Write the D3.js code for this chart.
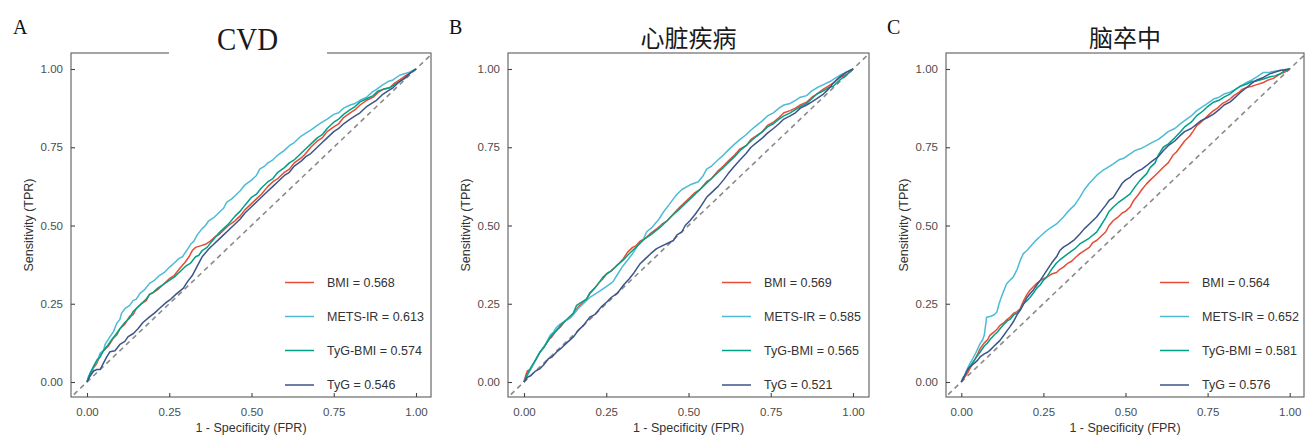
<!DOCTYPE html>
<html><head><meta charset="utf-8">
<script src="https://cdn.jsdelivr.net/npm/d3@7"></script>
<style>
html,body{margin:0;padding:0;background:#fff;}
svg{display:block;}
</style></head>
<body>
<svg id="chart" width="1305" height="443"></svg>
<script>
// ---------------- DATA ----------------
const panelLetters = ["A", "B", "C"];
const panelTitles = ["CVD", "心脏疾病", "脑卒中"];
const seriesNames = ["BMI", "METS-IR", "TyG-BMI", "TyG"];
const aucCVD = ["0.568", "0.613", "0.574", "0.546"];
const aucHeart = ["0.569", "0.585", "0.565", "0.521"];
const aucStroke = ["0.564", "0.652", "0.581", "0.576"];
const tickValues = [0, 0.25, 0.5, 0.75, 1];
const xAxisTitle = "1 - Specificity (FPR)";
const yAxisTitle = "Sensitivity (TPR)";

// ROC points [FPR, TPR]
const cvdBMI = [[0,0],[.01,.025],[.02,.045],[.03,.06],[.04,.085],[.05,.10],[.065,.115],[.08,.14],[.09,.15],[.1,.17],[.115,.185],[.13,.21],[.14,.215],[.15,.235],[.165,.25],[.18,.26],[.19,.28],[.2,.285],[.215,.295],[.23,.31],[.25,.33],[.265,.34],[.28,.36],[.3,.385],[.31,.40],[.32,.42],[.33,.43],[.345,.435],[.36,.44],[.375,.45],[.39,.465],[.4,.47],[.415,.485],[.43,.50],[.45,.515],[.465,.53],[.48,.55],[.5,.57],[.515,.585],[.53,.60],[.55,.625],[.565,.64],[.58,.65],[.6,.67],[.615,.68],[.63,.70],[.65,.715],[.665,.73],[.68,.75],[.7,.77],[.715,.78],[.73,.80],[.75,.815],[.765,.825],[.78,.845],[.8,.86],[.815,.87],[.83,.885],[.85,.90],[.87,.91],[.885,.925],[.9,.935],[.92,.94],[.935,.955],[.95,.965],[.97,.98],[.985,.99],[1,1]];
const cvdMETS = [[0,0],[.005,.02],[.015,.03],[.02,.05],[.03,.065],[.04,.092],[.05,.10],[.055,.12],[.07,.145],[.08,.16],[.09,.187],[.1,.20],[.105,.22],[.116,.235],[.13,.245],[.14,.26],[.15,.265],[.161,.283],[.175,.295],[.19,.315],[.205,.325],[.22,.34],[.235,.35],[.252,.368],[.265,.38],[.28,.395],[.29,.40],[.303,.42],[.315,.44],[.325,.45],[.335,.47],[.35,.49],[.36,.50],[.37,.515],[.385,.525],[.4,.54],[.415,.555],[.425,.575],[.44,.585],[.45,.595],[.465,.61],[.48,.63],[.5,.645],[.515,.66],[.525,.68],[.54,.69],[.55,.70],[.565,.71],[.58,.725],[.6,.74],[.615,.755],[.63,.765],[.65,.785],[.665,.795],[.68,.805],[.7,.82],[.715,.83],[.73,.84],[.75,.855],[.765,.86],[.78,.875],[.8,.885],[.815,.89],[.83,.90],[.85,.91],[.865,.925],[.88,.935],[.9,.95],[.915,.96],[.93,.965],[.95,.98],[.965,.985],[.98,.99],[1,1]];
const cvdTyGBMI = [[0,0],[.01,.03],[.02,.05],[.03,.07],[.04,.08],[.05,.10],[.065,.12],[.075,.135],[.09,.155],[.1,.17],[.115,.19],[.13,.205],[.14,.225],[.15,.235],[.165,.25],[.18,.265],[.19,.28],[.2,.285],[.215,.30],[.23,.31],[.25,.325],[.265,.335],[.28,.35],[.3,.37],[.315,.38],[.33,.40],[.34,.405],[.35,.42],[.365,.43],[.38,.45],[.4,.475],[.415,.49],[.43,.505],[.45,.53],[.465,.545],[.48,.565],[.5,.59],[.515,.60],[.53,.62],[.55,.64],[.565,.65],[.58,.67],[.6,.685],[.615,.70],[.63,.71],[.65,.73],[.665,.745],[.68,.76],[.7,.78],[.715,.79],[.73,.81],[.75,.83],[.765,.84],[.78,.855],[.8,.87],[.815,.88],[.83,.895],[.85,.905],[.87,.915],[.885,.93],[.9,.935],[.92,.94],[.935,.95],[.95,.96],[.965,.97],[.98,.985],[1,1]];
const cvdTyG = [[0,0],[.01,.02],[.02,.035],[.03,.04],[.04,.04],[.05,.06],[.06,.08],[.07,.097],[.085,.10],[.1,.12],[.115,.13],[.125,.145],[.141,.155],[.155,.17],[.17,.19],[.19,.208],[.205,.22],[.22,.235],[.242,.255],[.255,.265],[.27,.28],[.293,.30],[.305,.32],[.32,.34],[.335,.37],[.35,.40],[.37,.425],[.385,.44],[.4,.455],[.415,.47],[.43,.485],[.45,.505],[.465,.52],[.48,.54],[.5,.56],[.515,.575],[.53,.59],[.55,.61],[.565,.625],[.58,.64],[.6,.66],[.615,.67],[.63,.69],[.65,.705],[.665,.72],[.68,.73],[.7,.75],[.715,.765],[.73,.78],[.75,.80],[.765,.81],[.78,.825],[.8,.84],[.815,.85],[.83,.86],[.85,.88],[.865,.89],[.88,.90],[.9,.92],[.915,.93],[.93,.94],[.95,.96],[.965,.97],[.98,.985],[1,1]];

const heartBMI = [[0,0],[.005,.02],[.01,.035],[.02,.04],[.03,.06],[.04,.08],[.049,.096],[.06,.11],[.075,.135],[.085,.145],[.099,.165],[.11,.175],[.125,.195],[.14,.205],[.15,.218],[.165,.24],[.18,.255],[.19,.265],[.2,.282],[.215,.30],[.23,.32],[.24,.33],[.251,.346],[.265,.355],[.28,.37],[.29,.38],[.302,.394],[.315,.415],[.33,.43],[.34,.435],[.353,.45],[.37,.46],[.385,.475],[.403,.489],[.42,.505],[.435,.515],[.454,.537],[.47,.555],[.485,.57],[.505,.59],[.52,.605],[.535,.615],[.555,.64],[.57,.65],[.59,.675],[.606,.69],[.62,.705],[.64,.725],[.657,.745],[.675,.755],[.69,.775],[.707,.787],[.725,.80],[.74,.82],[.758,.83],[.775,.845],[.79,.86],[.809,.867],[.825,.875],[.84,.885],[.859,.894],[.875,.91],[.89,.92],[.91,.936],[.925,.945],[.94,.955],[.96,.973],[.975,.98],[.99,.99],[1,1]];
const heartMETS = [[0,0],[.01,.02],[.02,.04],[.035,.07],[.049,.096],[.065,.12],[.08,.15],[.09,.16],[.099,.175],[.11,.185],[.125,.195],[.14,.205],[.15,.215],[.165,.235],[.18,.25],[.2,.27],[.215,.28],[.23,.29],[.25,.305],[.27,.32],[.285,.345],[.3,.37],[.315,.39],[.33,.41],[.345,.435],[.36,.45],[.373,.48],[.39,.495],[.41,.52],[.425,.545],[.44,.565],[.454,.585],[.465,.60],[.48,.615],[.505,.63],[.53,.64],[.545,.66],[.555,.68],[.57,.69],[.59,.71],[.606,.725],[.62,.74],[.64,.76],[.657,.775],[.675,.79],[.69,.805],[.707,.82],[.725,.835],[.74,.85],[.758,.86],[.775,.875],[.79,.885],[.809,.89],[.825,.90],[.84,.91],[.859,.915],[.875,.93],[.89,.94],[.91,.95],[.93,.96],[.945,.97],[.96,.98],[.98,.99],[1,1]];
const heartTyGBMI = [[0,0],[.01,.025],[.02,.045],[.035,.07],[.049,.096],[.06,.11],[.075,.135],[.085,.15],[.099,.165],[.11,.18],[.125,.195],[.14,.21],[.15,.22],[.16,.245],[.175,.255],[.19,.265],[.2,.285],[.215,.30],[.23,.32],[.24,.335],[.251,.345],[.265,.355],[.28,.37],[.302,.39],[.315,.405],[.33,.42],[.34,.43],[.353,.445],[.37,.46],[.385,.47],[.403,.485],[.42,.50],[.435,.515],[.454,.535],[.47,.55],[.485,.565],[.505,.585],[.52,.60],[.54,.62],[.555,.635],[.57,.65],[.59,.67],[.606,.685],[.62,.70],[.64,.72],[.657,.74],[.675,.755],[.69,.77],[.707,.785],[.725,.80],[.74,.815],[.758,.825],[.775,.84],[.79,.85],[.809,.86],[.825,.87],[.84,.88],[.859,.89],[.875,.905],[.89,.92],[.91,.93],[.925,.94],[.94,.945],[.96,.965],[.98,.98],[1,1]];
const heartTyG = [[0,0],[.01,.015],[.02,.02],[.035,.035],[.049,.043],[.06,.055],[.075,.075],[.085,.08],[.099,.096],[.115,.11],[.13,.125],[.15,.144],[.165,.165],[.18,.18],[.2,.207],[.215,.215],[.235,.24],[.251,.255],[.265,.27],[.285,.285],[.302,.309],[.32,.33],[.335,.35],[.353,.378],[.37,.395],[.385,.41],[.403,.426],[.42,.435],[.44,.445],[.454,.452],[.465,.47],[.48,.48],[.49,.50],[.505,.516],[.52,.535],[.54,.565],[.555,.59],[.57,.605],[.59,.625],[.606,.645],[.62,.665],[.64,.69],[.657,.71],[.675,.73],[.69,.75],[.707,.765],[.725,.78],[.74,.795],[.758,.81],[.775,.825],[.79,.84],[.809,.85],[.825,.86],[.84,.875],[.859,.885],[.875,.895],[.89,.905],[.91,.92],[.925,.935],[.94,.955],[.96,.975],[.98,.99],[1,1]];

const strokeBMI = [[0,0],[.01,.015],[.02,.03],[.026,.043],[.04,.07],[.05,.09],[.057,.106],[.07,.125],[.08,.135],[.087,.149],[.1,.16],[.11,.17],[.118,.181],[.13,.19],[.14,.2],[.148,.207],[.16,.22],[.17,.225],[.179,.234],[.19,.26],[.2,.28],[.209,.293],[.22,.305],[.23,.315],[.24,.324],[.25,.33],[.26,.335],[.275,.345],[.29,.35],[.3,.36],[.311,.367],[.325,.38],[.335,.385],[.35,.40],[.361,.41],[.375,.42],[.39,.43],[.4,.445],[.412,.452],[.425,.465],[.44,.48],[.45,.50],[.463,.516],[.475,.525],[.49,.54],[.5,.545],[.514,.559],[.525,.58],[.54,.60],[.55,.615],[.564,.633],[.575,.645],[.59,.66],[.6,.67],[.615,.686],[.63,.70],[.645,.725],[.655,.735],[.666,.75],[.68,.77],[.695,.785],[.705,.80],[.717,.819],[.73,.83],[.745,.845],[.755,.855],[.768,.867],[.78,.875],[.795,.89],[.805,.895],[.818,.904],[.83,.915],[.845,.925],[.855,.935],[.869,.941],[.885,.945],[.9,.95],[.92,.957],[.935,.965],[.95,.97],[.97,.984],[.985,.99],[1,1]];
const strokeMETS = [[0,0],[.005,.015],[.01,.02],[.015,.035],[.026,.059],[.035,.075],[.045,.095],[.057,.122],[.065,.135],[.07,.15],[.075,.19],[.077,.207],[.09,.21],[.1,.215],[.108,.223],[.115,.25],[.125,.28],[.138,.314],[.148,.325],[.158,.335],[.17,.36],[.18,.39],[.189,.41],[.2,.42],[.209,.431],[.225,.45],[.24,.465],[.26,.484],[.275,.495],[.29,.505],[.311,.527],[.325,.545],[.345,.565],[.361,.59],[.375,.615],[.39,.635],[.412,.66],[.43,.675],[.445,.685],[.463,.697],[.48,.71],[.495,.715],[.514,.729],[.53,.74],[.545,.745],[.564,.755],[.58,.765],[.6,.775],[.615,.787],[.63,.80],[.65,.81],[.666,.824],[.68,.835],[.7,.85],[.717,.867],[.735,.88],[.75,.89],[.768,.904],[.785,.91],[.8,.92],[.818,.926],[.835,.935],[.85,.945],[.869,.957],[.885,.965],[.9,.975],[.92,.989],[.94,.99],[.97,.995],[1,1]];
const strokeTyGBMI = [[0,0],[.01,.02],[.02,.04],[.026,.05],[.04,.07],[.05,.085],[.057,.095],[.07,.115],[.08,.125],[.087,.135],[.1,.15],[.11,.16],[.118,.17],[.13,.185],[.14,.195],[.148,.2],[.16,.215],[.17,.22],[.179,.23],[.19,.25],[.2,.26],[.209,.27],[.22,.285],[.23,.3],[.24,.31],[.25,.325],[.26,.335],[.275,.36],[.29,.38],[.3,.39],[.311,.399],[.325,.41],[.345,.425],[.361,.441],[.375,.45],[.39,.46],[.412,.479],[.425,.50],[.44,.525],[.45,.545],[.463,.559],[.48,.575],[.5,.59],[.514,.601],[.53,.625],[.545,.645],[.564,.665],[.575,.685],[.59,.70],[.6,.725],[.615,.75],[.63,.76],[.65,.78],[.666,.798],[.68,.815],[.7,.83],[.717,.851],[.735,.865],[.75,.88],[.768,.894],[.785,.90],[.8,.91],[.818,.92],[.835,.935],[.85,.945],[.869,.952],[.885,.96],[.9,.962],[.92,.968],[.94,.975],[.955,.978],[.97,.984],[.985,.995],[1,1]];
const strokeTyG = [[0,0],[.01,.02],[.02,.04],[.026,.048],[.04,.06],[.05,.07],[.057,.08],[.07,.09],[.08,.095],[.087,.101],[.1,.115],[.11,.125],[.118,.133],[.13,.15],[.14,.165],[.148,.176],[.16,.195],[.17,.215],[.179,.229],[.19,.25],[.2,.27],[.209,.282],[.22,.295],[.23,.31],[.24,.324],[.25,.34],[.26,.356],[.275,.38],[.29,.40],[.3,.42],[.311,.431],[.325,.44],[.345,.455],[.361,.473],[.375,.49],[.39,.505],[.412,.527],[.425,.545],[.44,.565],[.45,.58],[.463,.59],[.475,.61],[.49,.635],[.5,.645],[.514,.654],[.525,.665],[.54,.675],[.55,.68],[.564,.691],[.58,.705],[.6,.72],[.615,.739],[.63,.755],[.65,.77],[.666,.787],[.68,.80],[.7,.81],[.717,.824],[.73,.835],[.75,.845],[.768,.856],[.785,.87],[.8,.885],[.818,.894],[.835,.91],[.85,.925],[.869,.941],[.885,.955],[.9,.965],[.92,.973],[.94,.985],[.97,.995],[1,1]];

// ---------------- LAYOUT / STYLE ----------------
const colors = ["#E64B35", "#4DBBD5", "#00A087", "#3C5488"];
const panels = [
  {left: 71, right: 431, x0: 87, x1: 416, letterX: 13, curves: [cvdBMI, cvdMETS, cvdTyGBMI, cvdTyG], auc: aucCVD},
  {left: 508, right: 869, x0: 524, x1: 853, letterX: 449, curves: [heartBMI, heartMETS, heartTyGBMI, heartTyG], auc: aucHeart},
  {left: 946, right: 1304, x0: 961.3, x1: 1289.7, letterX: 887, curves: [strokeBMI, strokeMETS, strokeTyGBMI, strokeTyG], auc: aucStroke}
];
const frameTop = 53, frameBottom = 397, yZero = 382, yOne = 69;
const svg = d3.select("#chart");
const sans = "'Liberation Sans', Arial, sans-serif";

panels.forEach((p, i) => {
  const g = svg.append("g");
  const x = d3.scaleLinear().domain([0, 1]).range([p.x0, p.x1]);
  const y = d3.scaleLinear().domain([0, 1]).range([yZero, yOne]);

  const clipId = "clip" + i;
  svg.append("clipPath").attr("id", clipId).append("rect")
    .attr("x", p.left).attr("y", frameTop).attr("width", p.right - p.left).attr("height", frameBottom - frameTop);

  // diagonal reference
  g.append("line")
    .attr("clip-path", `url(#${clipId})`)
    .attr("x1", x(-0.06)).attr("y1", y(-0.06)).attr("x2", x(1.06)).attr("y2", y(1.06))
    .attr("stroke", "#8a8a8a").attr("stroke-width", 1.6).attr("stroke-dasharray", "5,4");

  // curves
  const line = d3.line().x(d => x(d[0])).y(d => y(d[1]));
  p.curves.forEach((c, k) => {
    g.append("path").datum(c).attr("d", line)
      .attr("fill", "none").attr("stroke", colors[k]).attr("stroke-width", 1.5)
      .attr("stroke-linejoin", "round");
  });

  // frame
  g.append("rect").attr("x", p.left).attr("y", frameTop)
    .attr("width", p.right - p.left).attr("height", frameBottom - frameTop)
    .attr("fill", "none").attr("stroke", "#5c5c5c").attr("stroke-width", 1.1);

  // axes
  const xa = g.append("g").attr("transform", `translate(0,${frameBottom})`)
    .call(d3.axisBottom(x).tickValues(tickValues).tickFormat(d3.format(".2f")).tickSizeInner(-4).tickSizeOuter(0).tickPadding(11));
  const ya = g.append("g").attr("transform", `translate(${p.left},0)`)
    .call(d3.axisLeft(y).tickValues(tickValues).tickFormat(d3.format(".2f")).tickSizeInner(-4).tickSizeOuter(0).tickPadding(8));
  [xa, ya].forEach(a => {
    a.select(".domain").remove();
    a.selectAll(".tick line").attr("stroke", "#444").attr("stroke-width", 1.1);
    a.selectAll(".tick text").attr("fill", "#4d4d4d").style("font-family", sans).style("font-size", "11.5px");
  });

  // axis titles
  const cx = (p.left + p.right) / 2;
  g.append("text").attr("x", cx).attr("y", 432).attr("text-anchor", "middle")
    .style("font-family", sans).style("font-size", "12.5px").attr("fill", "#333")
    .text(xAxisTitle);
  g.append("text").attr("transform", `translate(${p.left - 38.5},${(frameTop + frameBottom) / 2}) rotate(-90)`)
    .attr("text-anchor", "middle")
    .style("font-family", sans).style("font-size", "12.5px").attr("fill", "#333")
    .text(yAxisTitle);

  // legend
  const legendY = [282.5, 316.5, 350.5, 385];
  seriesNames.forEach((name, k) => {
    g.append("line").attr("x1", p.left + 214).attr("x2", p.left + 243)
      .attr("y1", legendY[k]).attr("y2", legendY[k])
      .attr("stroke", colors[k]).attr("stroke-width", 1.5);
    g.append("text").attr("x", p.left + 256).attr("y", legendY[k]).attr("dy", "0.35em")
      .style("font-family", sans).style("font-size", "12.5px").attr("fill", "#333")
      .text(`${name} = ${p.auc[k]}`);
  });

  // panel letter
  svg.append("text").attr("x", p.letterX).attr("y", 34)
    .style("font-family", "'Liberation Serif', 'Times New Roman', serif").style("font-size", "20px").attr("fill", "#111")
    .text(panelLetters[i]);

  // title
  if (i === 0) {
    svg.append("rect").attr("x", 169).attr("y", 22).attr("width", 158).attr("height", 33).attr("fill", "#fff");
    svg.append("text").attr("x", 247.5).attr("y", 50).attr("text-anchor", "middle")
      .attr("textLength", 61).attr("lengthAdjust", "spacingAndGlyphs")
      .style("font-family", "'Liberation Serif', 'Times New Roman', serif").style("font-size", "32px").attr("fill", "#1a1a1a")
      .text(panelTitles[i]);
  } else {
    svg.append("text").attr("x", cx).attr("y", 47).attr("text-anchor", "middle")
      .style("font-family", "'Noto Sans CJK SC', sans-serif").style("font-size", "24px").attr("fill", "#1a1a1a")
      .text(panelTitles[i]);
  }
});
</script>
</body></html>
